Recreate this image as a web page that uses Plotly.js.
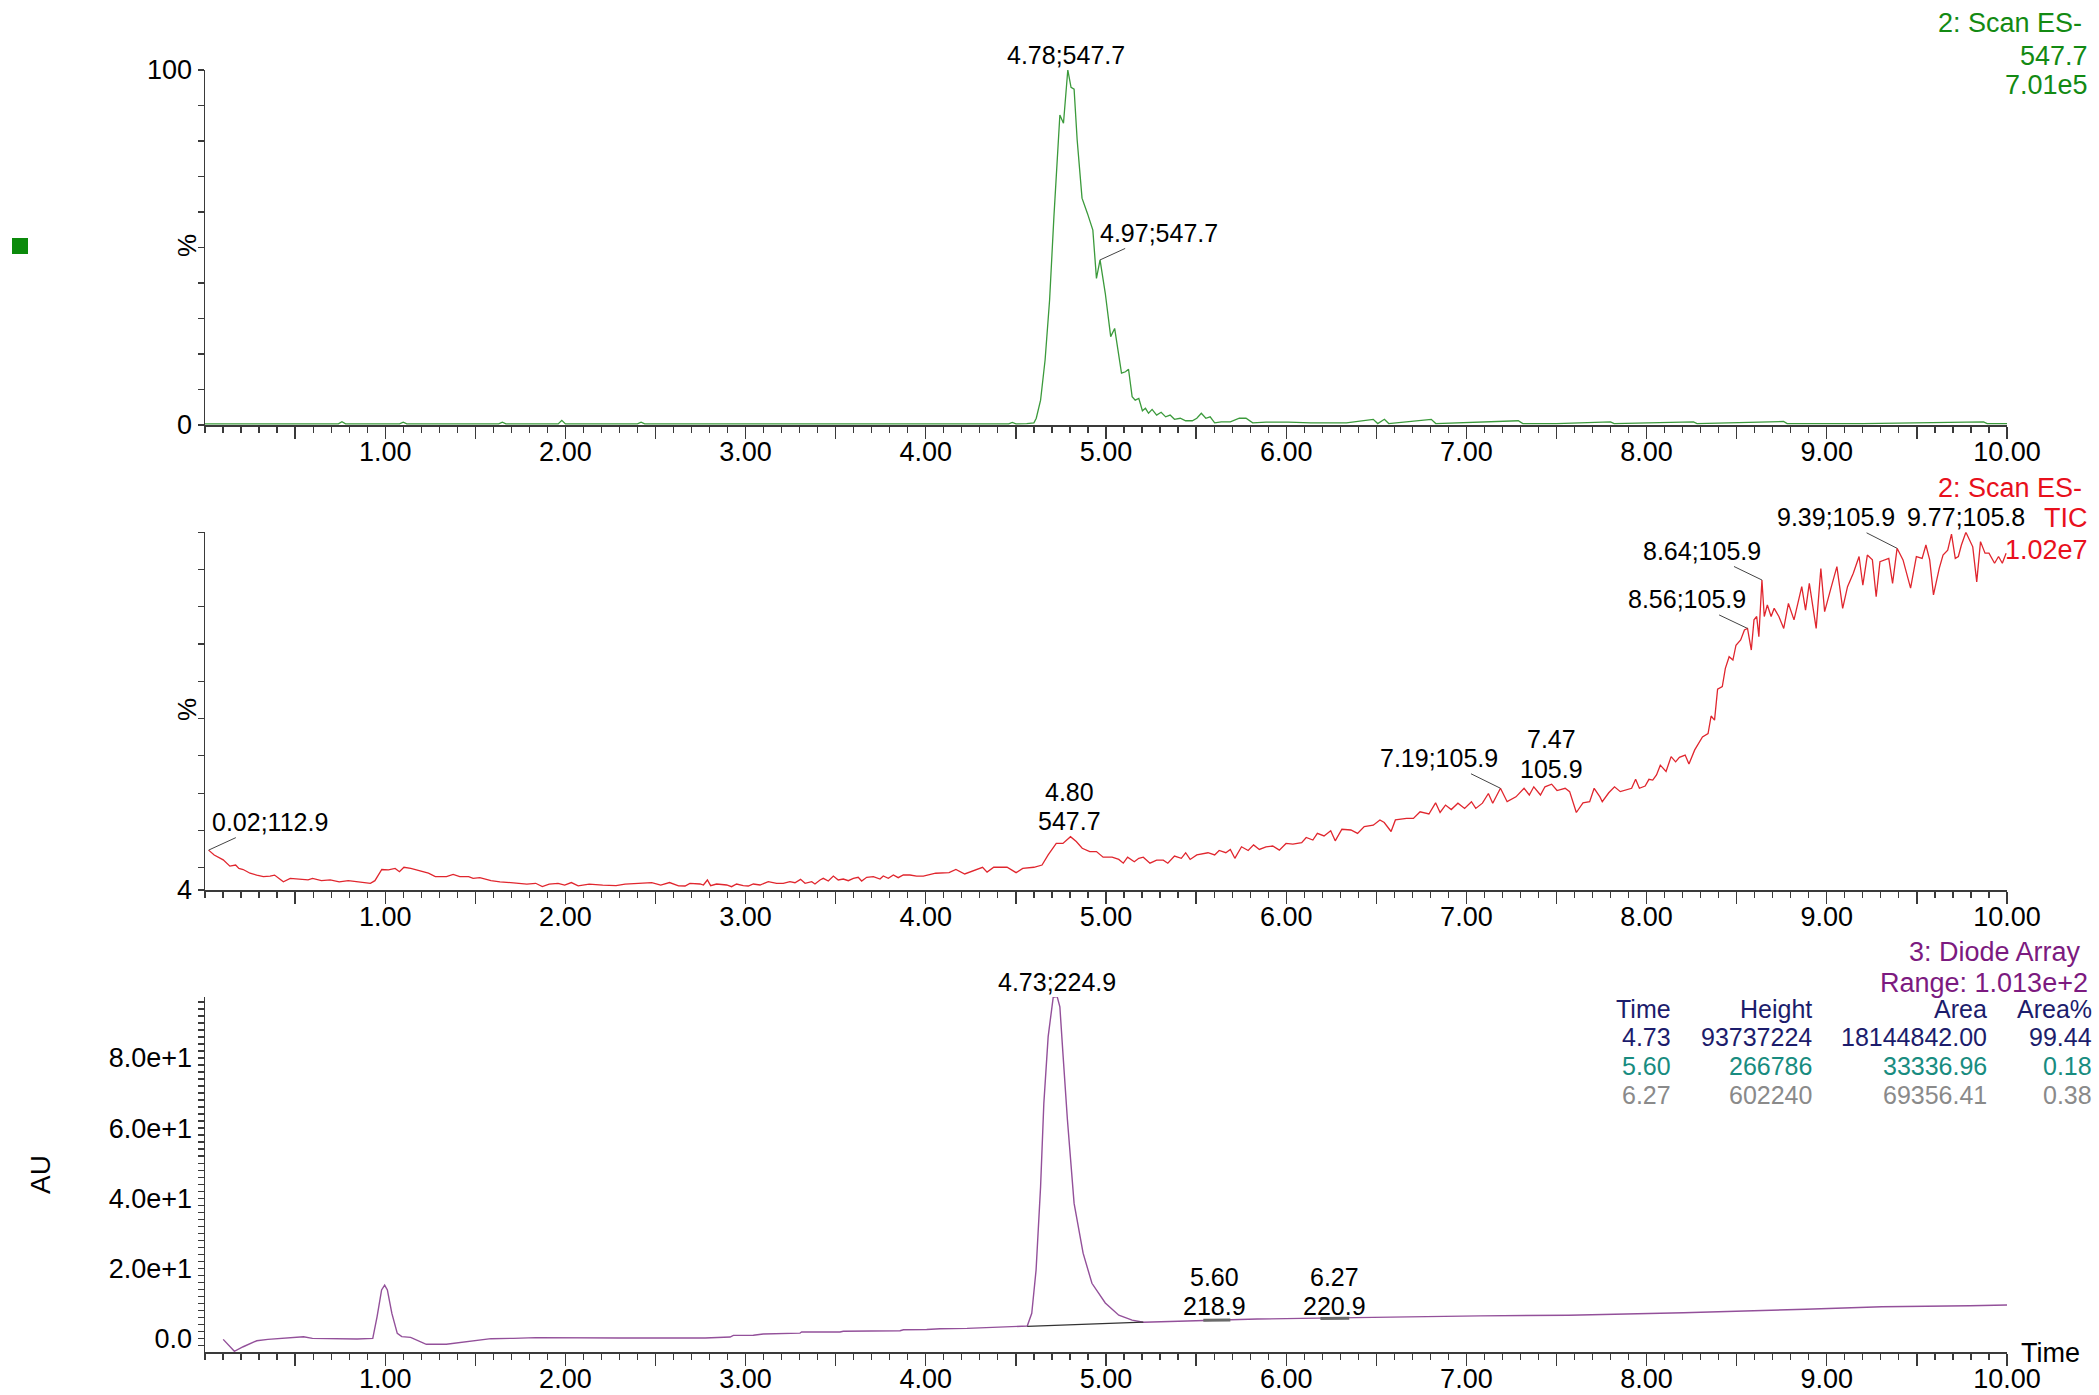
<!DOCTYPE html>
<html>
<head>
<meta charset="utf-8">
<script src="https://cdn.plot.ly/plotly-3.0.1.min.js"></script>
<style>
html,body{margin:0;padding:0;background:#fff;}
#chart{width:2099px;height:1395px;}
</style>
</head>
<body>
<div id="chart"></div>
<script>
// ---------------- DATA ----------------
// Panel 1: 2: Scan ES- 547.7 (extracted ion chromatogram), % of 7.01e5
const ms547Time = [0.00,0.50,0.74,0.76,0.78,1.08,1.10,1.12,1.50,1.63,1.65,1.67,1.96,1.98,2.00,2.40,2.42,2.44,3.00,3.50,4.00,4.46,4.48,4.50,4.56,
  4.600,4.613,4.637,4.662,4.687,4.711,4.729,4.744,4.764,4.779,4.788,4.806,4.823,4.840,4.867,4.897,4.927,4.947,4.967,4.996,
  5.026,5.048,5.063,5.086,5.108,5.125,5.145,5.162,5.182,5.202,5.219,5.236,5.256,5.281,5.306,5.331,5.356,5.380,5.412,5.442,
  5.479,5.504,5.529,5.554,5.578,5.603,5.640,5.690,5.740,5.777,5.814,5.888,6.012,6.136,6.334,6.483,6.508,6.545,6.569,6.805,6.830,
  7.288,7.313,7.50,7.80,7.82,8.26,8.28,8.76,8.78,9.20,9.87,9.89,10.00];
const ms547Pct = [0.3,0.3,0.3,0.9,0.3,0.3,0.8,0.3,0.3,0.3,0.8,0.3,0.3,1.3,0.3,0.3,0.8,0.3,0.3,0.3,0.3,0.3,0.7,0.3,0.4,
  0.6,1.9,7.0,18.3,35.2,58.7,74.6,87.3,85.0,95.3,100.0,95.1,94.6,80.3,63.9,59.6,54.9,41.3,46.5,37.1,
  24.9,27.2,22.1,14.6,15.0,15.7,8.0,7.0,7.5,4.0,4.7,3.3,4.4,2.8,3.6,2.3,2.8,1.6,1.9,1.2,
  1.2,1.9,3.3,1.9,2.3,0.6,0.9,0.9,1.9,1.9,0.6,0.8,0.8,0.6,0.6,1.6,0.4,1.6,0.4,1.6,0.4,
  1.2,0.4,0.4,0.9,0.4,0.9,0.4,1.0,0.4,0.4,0.9,0.4,0.4];
const ms547PeakTimes = [4.78, 4.97];
const ms547PeakMz = [547.7, 547.7];
const ms547Legend = ['2: Scan ES-', '547.7', '7.01e5'];

// Panel 2: 2: Scan ES- TIC, % of 1.02e7
const ticTime = [0.02,0.051,0.101,0.138,0.170,0.188,0.212,0.250,0.287,0.324,0.361,0.386,0.411,0.435,0.473,0.522,0.572,0.597,0.646,0.695,
  0.745,0.795,0.844,0.894,0.918,0.943,0.981,1.018,1.055,1.079,1.104,1.142,1.191,1.240,1.278,1.340,1.377,1.414,1.463,1.488,
  1.525,1.563,1.587,1.637,1.711,1.786,1.835,1.872,1.910,1.959,1.996,2.033,2.071,2.132,2.207,2.281,2.331,2.405,2.479,2.529,2.578,2.628,
  2.664,2.691,2.747,2.766,2.788,2.806,2.839,2.895,2.922,2.950,2.987,3.015,3.043,3.080,3.126,3.172,3.209,3.246,3.274,3.305,
  3.330,3.367,3.385,3.413,3.431,3.459,3.487,3.514,3.542,3.570,3.598,3.625,3.644,3.672,3.709,3.746,3.764,3.792,3.820,3.847,3.875,3.912,3.949,3.986,
  4.055,4.129,4.167,4.216,4.266,4.315,4.340,4.377,4.451,4.501,4.538,4.600,4.645,4.679,4.724,4.761,4.803,4.835,4.868,4.910,
  4.947,4.984,5.034,5.071,5.096,5.120,5.157,5.182,5.207,5.244,5.281,5.318,5.343,5.380,5.418,5.442,5.467,5.504,5.566,5.603,
  5.628,5.665,5.690,5.715,5.752,5.789,5.819,5.851,5.888,5.925,5.962,5.999,6.037,6.086,6.111,6.148,6.173,6.210,6.247,6.272,
  6.309,6.359,6.396,6.433,6.483,6.520,6.544,6.582,6.606,6.668,6.706,6.743,6.792,6.829,6.854,6.884,6.916,6.953,6.990,7.028,
  7.052,7.089,7.122,7.146,7.189,7.226,7.275,7.320,7.349,7.374,7.411,7.436,7.473,7.503,7.548,7.573,7.610,7.647,7.684,7.709,7.741,
  7.754,7.790,7.822,7.854,7.886,7.917,7.939,7.960,7.992,8.013,8.034,8.055,8.076,8.108,8.136,8.161,8.182,8.214,8.235,8.267,
  8.310,8.341,8.358,8.377,8.394,8.420,8.437,8.458,8.479,8.496,8.522,8.543,8.560,8.581,8.596,8.611,8.623,8.640,8.653,8.670,
  8.691,8.708,8.734,8.761,8.787,8.818,8.861,8.882,8.903,8.941,8.967,8.988,9.020,9.056,9.088,9.115,9.147,9.179,9.200,9.225,
  9.253,9.274,9.295,9.323,9.344,9.365,9.390,9.423,9.465,9.497,9.529,9.550,9.571,9.592,9.624,9.645,9.671,9.692,9.713,9.730,
  9.747,9.772,9.810,9.832,9.853,9.878,9.900,9.931,9.953,9.974,9.995];
const ticPct = [14.7,13.4,12.1,10.4,10.7,9.8,9.5,8.5,8.0,7.6,7.75,8.0,7.1,6.2,7.1,6.9,6.7,7.1,6.5,6.7,
  6.2,6.5,6.2,6.0,5.8,6.5,9.5,9.4,9.8,8.9,10.1,9.8,9.2,8.5,7.6,7.6,8.2,7.6,7.6,7.1,
  7.3,6.9,6.5,6.2,6.0,5.6,5.8,4.9,5.6,5.8,5.3,6.0,5.1,5.6,5.3,5.2,5.6,5.8,6.0,5.3,6.0,5.1,
  5.07,5.79,5.61,5.34,6.68,5.16,5.61,5.34,4.89,5.61,5.16,5.07,5.61,5.34,6.23,5.79,5.79,6.23,5.96,6.86,
  5.79,6.23,5.61,6.68,7.13,6.41,7.75,6.68,6.95,6.50,7.13,7.40,6.41,7.40,7.57,6.95,7.75,7.13,8.02,7.31,8.02,8.02,7.75,7.75,
  8.5,8.65,9.5,8.3,9.2,10.1,8.8,10.1,10.1,8.65,9.8,10.1,10.7,13.4,16.5,16.5,18.3,17.0,15.2,14.3,
  14.3,12.8,12.8,12.2,11.2,12.8,11.6,12.5,12.8,11.2,12.0,12.0,11.2,13.1,12.5,14.0,12.2,13.4,14.0,13.4,
  14.6,14.0,14.9,12.5,15.6,14.6,16.1,14.9,15.6,15.8,14.7,16.5,16.3,16.7,18.1,17.4,19.2,18.5,19.9,17.2,
  20.3,20.1,19.2,21.0,21.4,22.8,22.1,19.7,22.8,23.2,23.2,25.0,24.4,27.4,24.8,26.8,25.6,27.3,25.9,27.7,
  25.9,27.3,29.9,27.3,31.3,27.7,29.0,31.3,29.5,31.7,29.5,31.7,32.4,30.7,31.3,30.4,24.8,27.4,27.7,31.3,29.0,
  27.7,30.1,31.7,30.4,30.8,31.3,33.7,31.3,31.9,33.7,33.5,34.9,37.5,35.8,39.8,38.4,39.6,40.2,37.8,41.6,
  45.1,46.0,50.7,49.6,57.9,58.6,63.5,66.6,65.7,69.7,71.1,73.8,74.2,68.4,76.5,77.4,72.0,87.2,77.4,80.5,
  77.4,79.6,77.4,74.2,80.9,76.5,85.4,79.1,86.3,74.2,90.3,78.7,84.5,90.8,79.6,85.4,89.0,93.5,85.8,93.9,
  92.6,82.7,92.1,92.6,93.0,86.3,95.7,92.6,85.0,93.5,93.0,96.6,92.6,83.2,90.3,93.9,95.2,99.5,93.0,93.5,
  96.6,100.0,96.1,86.7,97.5,94.4,94.4,91.7,93.5,91.7,94.4];
const ticPeakTimes = [0.02, 4.80, 7.19, 7.47, 8.56, 8.64, 9.39, 9.77];
const ticPeakMz = [112.9, 547.7, 105.9, 105.9, 105.9, 105.9, 105.9, 105.8];
const ticLegend = ['2: Scan ES-', 'TIC', '1.02e7'];

// Panel 3: 3: Diode Array (AU)
const uvTime = [0.101,0.163,0.212,0.287,0.349,0.448,0.547,0.596,0.695,0.794,0.844,0.931,0.955,0.980,0.997,1.012,1.037,1.067,1.092,1.141,
  1.178,1.228,1.339,1.414,1.488,1.587,1.711,1.835,2.300,2.636,2.775,2.914,2.932,3.043,3.098,3.302,3.311,3.524,3.542,3.857,
  3.876,4.005,4.079,4.229,4.563,4.588,4.612,4.637,4.655,4.679,4.707,4.729,4.744,4.761,4.786,4.823,4.873,4.922,4.996,5.071,
  5.145,5.207,5.343,5.591,5.839,6.086,6.334,6.582,7.077,7.568,8.204,8.882,9.306,9.794,10.0];
const uvAU = [-0.3,-3.7,-2.4,-0.7,-0.3,0.0,0.47,0.0,-0.1,-0.3,-0.2,0.0,6.2,13.8,15.2,13.8,7.1,1.4,0.47,0.28,
  -0.5,-1.7,-1.7,-1.25,-0.7,-0.1,0.0,0.2,0.1,0.0,0.1,0.38,0.85,0.9,1.23,1.5,1.8,1.8,2.0,2.17,
  2.46,2.5,2.74,2.85,3.51,7.13,19.5,43.3,67.0,86.1,97.3,97.5,94.6,81.3,62.3,38.5,24.3,15.7,10.1,6.6,
  5.2,4.6,4.8,5.2,5.5,5.7,5.9,6.2,6.4,6.6,7.3,8.3,9.0,9.3,9.5];
const uvBaselineTime = [4.563, 5.207];
const uvBaselineAU = [3.4, 4.6];
const uvSmallPeakStart = [5.54, 6.19];
const uvSmallPeakEnd = [5.69, 6.35];
const uvSmallPeakAU = [5.15, 5.65];
const uvPeakTimes = [4.73, 5.60, 6.27];
const uvPeakNm = [224.9, 218.9, 220.9];
const uvLegend = ['3: Diode Array', 'Range: 1.013e+2'];

// Peak table
const tableHeader = ['Time', 'Height', 'Area', 'Area%'];
const tableTime = ['4.73', '5.60', '6.27'];
const tableHeight = ['93737224', '266786', '602240'];
const tableArea = ['18144842.00', '33336.96', '69356.41'];
const tableAreaPct = ['99.44', '0.18', '0.38'];

// Axis ticks
const timeTickVals = [0.5,1,1.5,2,2.5,3,3.5,4,4.5,5,5.5,6,6.5,7,7.5,8,8.5,9,9.5,10];
const timeTickText = ['','1.00','','2.00','','3.00','','4.00','','5.00','','6.00','','7.00','','8.00','','9.00','','10.00'];
const ms547TickVals = [0,10,20,30,40,50,60,70,80,90,100];
const ms547TickText = ['0','','','','','','','','','','100'];
const ticTickVals = [4,10,20,30,40,50,60,70,80,90,100];
const ticTickText = ['4','','','','','','','','','',''];
const uvTickVals = [0,20,40,60,80];
const uvTickText = ['0.0','2.0e+1','4.0e+1','6.0e+1','8.0e+1'];

// ---------------- STYLE / LAYOUT ----------------
const W = 2099, H = 1395;
const PX = v => v / W;
const PY = v => 1 - v / H;
const FONT = '"Liberation Sans", Arial, Helvetica, sans-serif';
const AX = '#3a3a3a';
const GREEN_LINE = '#3b9a3b', RED_LINE = '#e0262e', PURPLE_LINE = '#93509a';
const GREEN_TXT = '#138a13', RED_TXT = '#e8101c', PURPLE_TXT = '#7c1a80';
const NAVY = '#1c1c6c', TEAL = '#188c80', GREY = '#8a8a8a';

function nearest(xs, ys, t) {
  let bi = 0;
  for (let i = 0; i < xs.length; i++) if (Math.abs(xs[i] - t) < Math.abs(xs[bi] - t)) bi = i;
  return ys[bi];
}
const fmtRT = t => t.toFixed(2);
const fmtMz = m => m.toFixed(1);

const xDomain = [PX(205), PX(2007)];
function xAxis(anchor) {
  return {
    domain: xDomain, anchor: anchor, range: [0, 10], showgrid: false, zeroline: false,
    showline: true, linecolor: AX, linewidth: 1.5,
    tickmode: 'array', tickvals: timeTickVals, ticktext: timeTickText,
    ticks: 'outside', ticklen: 12, tickwidth: 1.3, tickcolor: AX,
    ticklabelstandoff: -10,
    tickfont: {family: FONT, size: 27, color: '#000'},
    minor: {dtick: 0.1, tick0: 0, ticks: 'outside', ticklen: 6, tickwidth: 1.2, tickcolor: AX, showgrid: false},
    fixedrange: true
  };
}
function yAxis(anchor, dom, range, vals, text) {
  return {
    domain: dom, anchor: anchor, range: range, showgrid: false, zeroline: false,
    showline: true, linecolor: AX, linewidth: 1.5,
    tickmode: 'array', tickvals: vals, ticktext: text,
    ticks: 'outside', ticklen: 6, tickwidth: 1.2, tickcolor: AX,
    tickfont: {family: FONT, size: 27, color: '#000'},
    fixedrange: true
  };
}

const traces = [
  {x: ms547Time, y: ms547Pct, xaxis: 'x', yaxis: 'y', mode: 'lines', line: {color: GREEN_LINE, width: 1.3}, hoverinfo: 'skip'},
  {x: ticTime, y: ticPct, xaxis: 'x2', yaxis: 'y2', mode: 'lines', line: {color: RED_LINE, width: 1.3}, hoverinfo: 'skip'},
  {x: uvTime, y: uvAU, xaxis: 'x3', yaxis: 'y3', mode: 'lines', line: {color: PURPLE_LINE, width: 1.4}, hoverinfo: 'skip'},
  {x: uvBaselineTime, y: uvBaselineAU, xaxis: 'x3', yaxis: 'y3', mode: 'lines', line: {color: '#333', width: 1.2}, hoverinfo: 'skip'}
];
for (let i = 0; i < uvSmallPeakStart.length; i++) {
  traces.push({x: [uvSmallPeakStart[i], uvSmallPeakEnd[i]], y: [uvSmallPeakAU[i], uvSmallPeakAU[i] + 0.1],
    xaxis: 'x3', yaxis: 'y3', mode: 'lines', line: {color: '#6a6a6a', width: 3}, hoverinfo: 'skip'});
}

const ann = [];
const LBL = 25;
function txt(text, xpx, ypx, opts) {
  ann.push(Object.assign({text: text, xref: 'paper', yref: 'paper', x: PX(xpx), y: PY(ypx),
    xanchor: 'center', yanchor: 'middle', showarrow: false,
    font: {family: FONT, size: LBL, color: '#000'}}, opts || {}));
}
function dataTxt(text, xref, t, ypx) {
  ann.push({text: text, xref: xref, yref: 'paper', x: t, y: PY(ypx), xanchor: 'center', yanchor: 'middle',
    showarrow: false, font: {family: FONT, size: LBL, color: '#000'}});
}
function leader(text, xref, yref, t, yv, ax, ay) {
  ann.push({text: text, xref: xref, yref: yref, x: t, y: yv, showarrow: true, arrowhead: 0, arrowwidth: 1,
    arrowcolor: '#444', ax: ax, ay: ay, axref: 'pixel', ayref: 'pixel', xanchor: 'center', yanchor: 'middle',
    font: {family: FONT, size: LBL, color: '#000'}});
}

// Panel 1 labels
dataTxt(fmtRT(ms547PeakTimes[0]) + ';' + fmtMz(ms547PeakMz[0]), 'x', ms547PeakTimes[0], 55);
leader(fmtRT(ms547PeakTimes[1]) + ';' + fmtMz(ms547PeakMz[1]), 'x', 'y', 4.967, nearest(ms547Time, ms547Pct, 4.967), 59, -27);

// Panel 2 labels
leader(fmtRT(ticPeakTimes[0]) + ';' + fmtMz(ticPeakMz[0]), 'x2', 'y2', ticPeakTimes[0], nearest(ticTime, ticPct, ticPeakTimes[0]), 61, -28);
dataTxt(fmtRT(ticPeakTimes[1]), 'x2', ticPeakTimes[1], 792);
dataTxt(fmtMz(ticPeakMz[1]), 'x2', ticPeakTimes[1], 821);
leader(fmtRT(ticPeakTimes[2]) + ';' + fmtMz(ticPeakMz[2]), 'x2', 'y2', 7.189, nearest(ticTime, ticPct, 7.189), -61, -30);
dataTxt(fmtRT(ticPeakTimes[3]), 'x2', ticPeakTimes[3], 739);
dataTxt(fmtMz(ticPeakMz[3]), 'x2', ticPeakTimes[3], 769);
leader(fmtRT(ticPeakTimes[4]) + ';' + fmtMz(ticPeakMz[4]), 'x2', 'y2', ticPeakTimes[4], nearest(ticTime, ticPct, ticPeakTimes[4]), -61, -29);
leader(fmtRT(ticPeakTimes[5]) + ';' + fmtMz(ticPeakMz[5]), 'x2', 'y2', ticPeakTimes[5], nearest(ticTime, ticPct, ticPeakTimes[5]), -60, -29);
leader(fmtRT(ticPeakTimes[6]) + ';' + fmtMz(ticPeakMz[6]), 'x2', 'y2', ticPeakTimes[6], nearest(ticTime, ticPct, ticPeakTimes[6]), -61, -31);
dataTxt(fmtRT(ticPeakTimes[7]) + ';' + fmtMz(ticPeakMz[7]), 'x2', ticPeakTimes[7], 517);

// Panel 3 labels
dataTxt(fmtRT(uvPeakTimes[0]) + ';' + fmtMz(uvPeakNm[0]), 'x3', uvPeakTimes[0], 982);
dataTxt(fmtRT(uvPeakTimes[1]), 'x3', uvPeakTimes[1], 1277);
dataTxt(fmtMz(uvPeakNm[1]), 'x3', uvPeakTimes[1], 1306);
dataTxt(fmtRT(uvPeakTimes[2]), 'x3', uvPeakTimes[2], 1277);
dataTxt(fmtMz(uvPeakNm[2]), 'x3', uvPeakTimes[2], 1306);

// Legends (right-aligned)
const legFont = c => ({family: FONT, size: 27, color: c});
[23, 56, 85].forEach((y, i) => txt(ms547Legend[i], i === 0 ? 2084 : 2090, y, {xanchor: 'right', font: legFont(GREEN_TXT)}));
[488, 518, 550].forEach((y, i) => txt(ticLegend[i], i === 0 ? 2084 : 2090, y, {xanchor: 'right', font: legFont(RED_TXT)}));
[952, 983].forEach((y, i) => txt(uvLegend[i], i === 0 ? 2083 : 2090, y, {xanchor: 'right', font: legFont(PURPLE_TXT)}));

// Peak table
const colRight = [1673, 1814, 1989, 2094];
const rowY = [1009, 1037, 1066, 1095];
const rowColor = [NAVY, TEAL, GREY];
const tFont = c => ({family: FONT, size: 25, color: c});
tableHeader.forEach((h, j) => txt(h, colRight[j], rowY[0], {xanchor: 'right', font: tFont(NAVY)}));
for (let r = 0; r < 3; r++) {
  const cells = [tableTime[r], tableHeight[r], tableArea[r], tableAreaPct[r]];
  cells.forEach((c, j) => txt(c, colRight[j], rowY[r + 1], {xanchor: 'right', font: tFont(rowColor[r])}));
}

// Axis titles
txt('%', 187, 246, {textangle: -90, font: {family: FONT, size: 26, color: '#000'}});
txt('%', 187, 710, {textangle: -90, font: {family: FONT, size: 26, color: '#000'}});
txt('AU', 40, 1175, {textangle: -90, font: {family: FONT, size: 28, color: '#000'}});
txt('Time', 2050, 1353, {font: {family: FONT, size: 27, color: '#000'}});

const layout = {
  width: W, height: H, margin: {l: 0, r: 0, t: 0, b: 0},
  paper_bgcolor: '#fff', plot_bgcolor: '#fff', showlegend: false,
  font: {family: FONT, color: '#000'},
  xaxis: xAxis('y'),
  yaxis: yAxis('x', [PY(425), PY(70)], [0, 100], ms547TickVals, ms547TickText),
  xaxis2: xAxis('y2'),
  yaxis2: yAxis('x2', [PY(890), PY(532.3)], [4, 100], ticTickVals, ticTickText),
  xaxis3: xAxis('y3'),
  yaxis3: Object.assign(yAxis('x3', [PY(1352), PY(997)], [-3.9, 97.4], uvTickVals, uvTickText),
    {minor: {dtick: 2, tick0: 0, ticks: 'outside', ticklen: 6, tickwidth: 1.2, tickcolor: AX, showgrid: false}}),
  annotations: ann,
  shapes: [
    {type: 'rect', xref: 'paper', yref: 'paper', x0: PX(12), x1: PX(28), y0: PY(254), y1: PY(238),
     fillcolor: '#0b8a0b', line: {width: 0}}
  ]
};

Plotly.newPlot('chart', traces, layout, {staticPlot: true, displayModeBar: false});
</script>
</body>
</html>
